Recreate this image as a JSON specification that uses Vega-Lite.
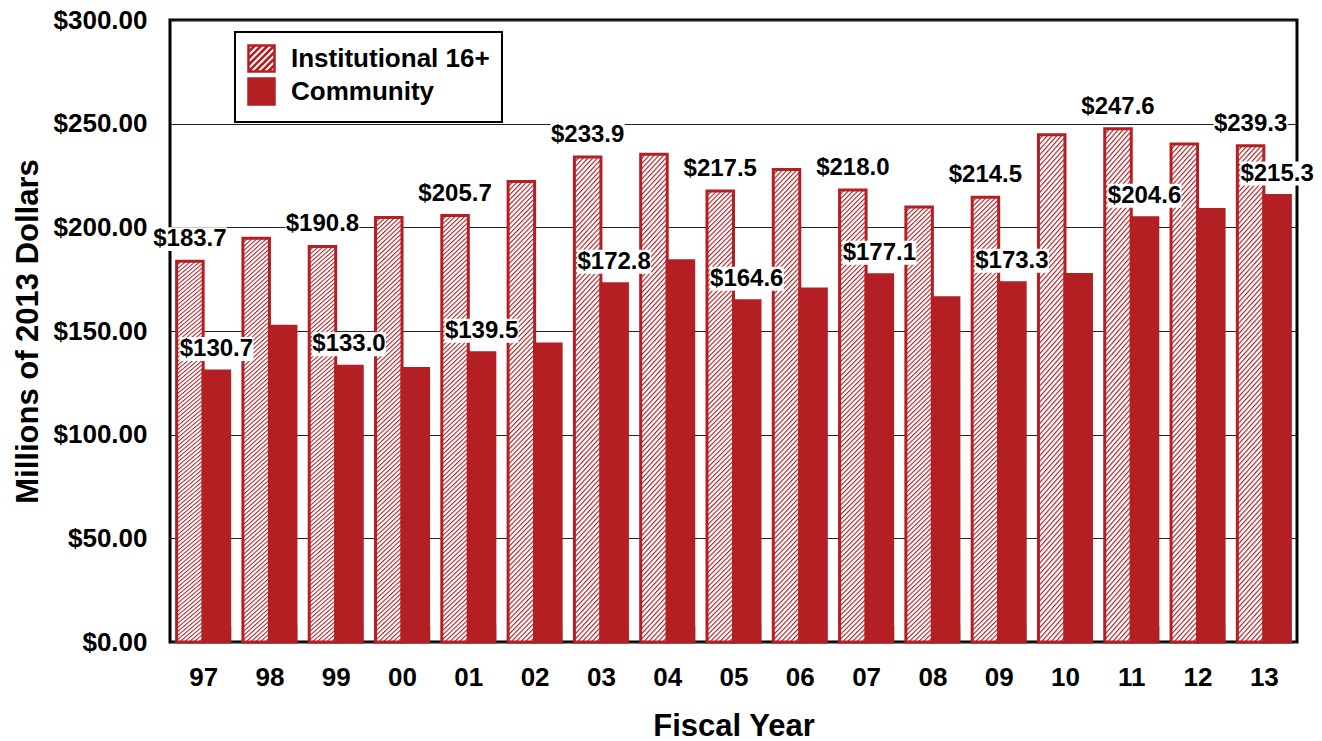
{
  "$schema": "https://vega.github.io/schema/vega-lite/v6.json",
  "width": 1127,
  "height": 622,
  "autosize": {"type": "none"},
  "padding": {"left": 170, "top": 20, "right": 25, "bottom": 99},
  "background": "white",
  "config": {
    "font": "Liberation Sans",
    "view": {"stroke": "black", "strokeWidth": 3},
    "legend": {"strokeColor": "black", "strokeWidth": 2, "fillColor": "white"}
  },
  "data": {
    "values": [
      {"year": "97", "series": "Institutional 16+", "value": 183.7},
      {"year": "98", "series": "Institutional 16+", "value": 194.7},
      {"year": "99", "series": "Institutional 16+", "value": 190.8},
      {"year": "00", "series": "Institutional 16+", "value": 204.7},
      {"year": "01", "series": "Institutional 16+", "value": 205.7},
      {"year": "02", "series": "Institutional 16+", "value": 222.1},
      {"year": "03", "series": "Institutional 16+", "value": 233.9},
      {"year": "04", "series": "Institutional 16+", "value": 235.3},
      {"year": "05", "series": "Institutional 16+", "value": 217.5},
      {"year": "06", "series": "Institutional 16+", "value": 227.9},
      {"year": "07", "series": "Institutional 16+", "value": 218.0},
      {"year": "08", "series": "Institutional 16+", "value": 209.8},
      {"year": "09", "series": "Institutional 16+", "value": 214.5},
      {"year": "10", "series": "Institutional 16+", "value": 244.7},
      {"year": "11", "series": "Institutional 16+", "value": 247.6},
      {"year": "12", "series": "Institutional 16+", "value": 240.2},
      {"year": "13", "series": "Institutional 16+", "value": 239.3},
      {"year": "97", "series": "Community", "value": 130.7},
      {"year": "98", "series": "Community", "value": 152.3},
      {"year": "99", "series": "Community", "value": 133.0},
      {"year": "00", "series": "Community", "value": 131.9},
      {"year": "01", "series": "Community", "value": 139.5},
      {"year": "02", "series": "Community", "value": 143.7},
      {"year": "03", "series": "Community", "value": 172.8},
      {"year": "04", "series": "Community", "value": 183.9},
      {"year": "05", "series": "Community", "value": 164.6},
      {"year": "06", "series": "Community", "value": 170.3},
      {"year": "07", "series": "Community", "value": 177.1},
      {"year": "08", "series": "Community", "value": 166.0},
      {"year": "09", "series": "Community", "value": 173.3},
      {"year": "10", "series": "Community", "value": 177.2},
      {"year": "11", "series": "Community", "value": 204.6},
      {"year": "12", "series": "Community", "value": 208.6},
      {"year": "13", "series": "Community", "value": 215.3}
    ]
  },
  "encoding": {
    "x": {
      "field": "year", "type": "nominal", "sort": null,
      "scale": {"paddingInner": 0.2, "paddingOuter": 0.1},
      "axis": {
        "title": "Fiscal Year", "titleFontSize": 31, "titleFontWeight": "bold", "titleColor": "black", "titlePadding": 21,
        "labelAngle": 0, "labelFontSize": 26, "labelFontWeight": "bold", "labelColor": "black", "labelPadding": 39,
        "domain": false, "grid": false,
        "ticks": true, "tickBand": "extent", "tickSize": -17, "tickColor": "#555", "tickWidth": 1.5
      }
    },
    "y": {
      "field": "value", "type": "quantitative",
      "scale": {"domain": [0, 300], "nice": false},
      "axis": {
        "title": "Millions of 2013 Dollars", "titleFontSize": 31, "titleFontWeight": "bold", "titleColor": "black", "titlePadding": 9,
        "values": [0, 50, 100, 150, 200, 250, 300], "format": "$.2f",
        "labelFontSize": 26, "labelFontWeight": "bold", "labelColor": "black", "labelPadding": 23,
        "domain": false, "ticks": false,
        "grid": true, "gridColor": "#222", "gridWidth": 1, "gridOpacity": 1
      }
    },
    "xOffset": {"field": "series", "type": "nominal", "sort": ["Institutional 16+", "Community"]}
  },
  "layer": [
    {
      "mark": {"type": "bar", "stroke": "#b41f24", "strokeWidth": 3},
      "encoding": {
        "fill": {
          "field": "series", "type": "nominal",
          "scale": {"domain": ["Institutional 16+", "Community"], "range": ["#ffffff", "#b41f24"]},
          "legend": {
            "title": null, "orient": "none", "legendX": 65, "legendY": 12,
            "padding": 12, "rowPadding": -9.5,
            "labelFont": "Liberation Sans", "labelFontSize": 26, "labelFontWeight": "bold", "labelColor": "black", "labelOffset": 15, "labelLimit": 500,
            "symbolType": "M-1,-1H1V1H-1Z M-1,-0.5L-0.5,-1 M-1,0L0,-1 M-1,0.5L0.5,-1 M-1,1L1,-1 M-0.5,1L1,-0.5 M0,1L1,0 M0.5,1L1,0.5",
            "symbolSize": 676, "symbolStrokeWidth": 2.5, "symbolStrokeColor": "#b41f24"
          },
          "condition": {
            "test": "datum.series === 'Institutional 16+'",
            "value": {
              "gradient": "linear", "x1": 0, "y1": 0, "x2": 0.0622, "y2": 1.0552,
              "stops": [
{"offset":0,"color":"#b41f24"},{"offset":0.004,"color":"#fff"},{"offset":0.0075,"color":"#fff"},
{"offset":0.01,"color":"#b41f24"},{"offset":0.014,"color":"#fff"},{"offset":0.0175,"color":"#fff"},
{"offset":0.02,"color":"#b41f24"},{"offset":0.024,"color":"#fff"},{"offset":0.0275,"color":"#fff"},
{"offset":0.03,"color":"#b41f24"},{"offset":0.034,"color":"#fff"},{"offset":0.0375,"color":"#fff"},
{"offset":0.04,"color":"#b41f24"},{"offset":0.044,"color":"#fff"},{"offset":0.0475,"color":"#fff"},
{"offset":0.05,"color":"#b41f24"},{"offset":0.054,"color":"#fff"},{"offset":0.0575,"color":"#fff"},
{"offset":0.06,"color":"#b41f24"},{"offset":0.064,"color":"#fff"},{"offset":0.0675,"color":"#fff"},
{"offset":0.07,"color":"#b41f24"},{"offset":0.074,"color":"#fff"},{"offset":0.0775,"color":"#fff"},
{"offset":0.08,"color":"#b41f24"},{"offset":0.084,"color":"#fff"},{"offset":0.0875,"color":"#fff"},
{"offset":0.09,"color":"#b41f24"},{"offset":0.094,"color":"#fff"},{"offset":0.0975,"color":"#fff"},
{"offset":0.1,"color":"#b41f24"},{"offset":0.104,"color":"#fff"},{"offset":0.1075,"color":"#fff"},
{"offset":0.11,"color":"#b41f24"},{"offset":0.114,"color":"#fff"},{"offset":0.1175,"color":"#fff"},
{"offset":0.12,"color":"#b41f24"},{"offset":0.124,"color":"#fff"},{"offset":0.1275,"color":"#fff"},
{"offset":0.13,"color":"#b41f24"},{"offset":0.134,"color":"#fff"},{"offset":0.1375,"color":"#fff"},
{"offset":0.14,"color":"#b41f24"},{"offset":0.144,"color":"#fff"},{"offset":0.1475,"color":"#fff"},
{"offset":0.15,"color":"#b41f24"},{"offset":0.154,"color":"#fff"},{"offset":0.1575,"color":"#fff"},
{"offset":0.16,"color":"#b41f24"},{"offset":0.164,"color":"#fff"},{"offset":0.1675,"color":"#fff"},
{"offset":0.17,"color":"#b41f24"},{"offset":0.174,"color":"#fff"},{"offset":0.1775,"color":"#fff"},
{"offset":0.18,"color":"#b41f24"},{"offset":0.184,"color":"#fff"},{"offset":0.1875,"color":"#fff"},
{"offset":0.19,"color":"#b41f24"},{"offset":0.194,"color":"#fff"},{"offset":0.1975,"color":"#fff"},
{"offset":0.2,"color":"#b41f24"},{"offset":0.204,"color":"#fff"},{"offset":0.2075,"color":"#fff"},
{"offset":0.21,"color":"#b41f24"},{"offset":0.214,"color":"#fff"},{"offset":0.2175,"color":"#fff"},
{"offset":0.22,"color":"#b41f24"},{"offset":0.224,"color":"#fff"},{"offset":0.2275,"color":"#fff"},
{"offset":0.23,"color":"#b41f24"},{"offset":0.234,"color":"#fff"},{"offset":0.2375,"color":"#fff"},
{"offset":0.24,"color":"#b41f24"},{"offset":0.244,"color":"#fff"},{"offset":0.2475,"color":"#fff"},
{"offset":0.25,"color":"#b41f24"},{"offset":0.254,"color":"#fff"},{"offset":0.2575,"color":"#fff"},
{"offset":0.26,"color":"#b41f24"},{"offset":0.264,"color":"#fff"},{"offset":0.2675,"color":"#fff"},
{"offset":0.27,"color":"#b41f24"},{"offset":0.274,"color":"#fff"},{"offset":0.2775,"color":"#fff"},
{"offset":0.28,"color":"#b41f24"},{"offset":0.284,"color":"#fff"},{"offset":0.2875,"color":"#fff"},
{"offset":0.29,"color":"#b41f24"},{"offset":0.294,"color":"#fff"},{"offset":0.2975,"color":"#fff"},
{"offset":0.3,"color":"#b41f24"},{"offset":0.304,"color":"#fff"},{"offset":0.3075,"color":"#fff"},
{"offset":0.31,"color":"#b41f24"},{"offset":0.314,"color":"#fff"},{"offset":0.3175,"color":"#fff"},
{"offset":0.32,"color":"#b41f24"},{"offset":0.324,"color":"#fff"},{"offset":0.3275,"color":"#fff"},
{"offset":0.33,"color":"#b41f24"},{"offset":0.334,"color":"#fff"},{"offset":0.3375,"color":"#fff"},
{"offset":0.34,"color":"#b41f24"},{"offset":0.344,"color":"#fff"},{"offset":0.3475,"color":"#fff"},
{"offset":0.35,"color":"#b41f24"},{"offset":0.354,"color":"#fff"},{"offset":0.3575,"color":"#fff"},
{"offset":0.36,"color":"#b41f24"},{"offset":0.364,"color":"#fff"},{"offset":0.3675,"color":"#fff"},
{"offset":0.37,"color":"#b41f24"},{"offset":0.374,"color":"#fff"},{"offset":0.3775,"color":"#fff"},
{"offset":0.38,"color":"#b41f24"},{"offset":0.384,"color":"#fff"},{"offset":0.3875,"color":"#fff"},
{"offset":0.39,"color":"#b41f24"},{"offset":0.394,"color":"#fff"},{"offset":0.3975,"color":"#fff"},
{"offset":0.4,"color":"#b41f24"},{"offset":0.404,"color":"#fff"},{"offset":0.4075,"color":"#fff"},
{"offset":0.41,"color":"#b41f24"},{"offset":0.414,"color":"#fff"},{"offset":0.4175,"color":"#fff"},
{"offset":0.42,"color":"#b41f24"},{"offset":0.424,"color":"#fff"},{"offset":0.4275,"color":"#fff"},
{"offset":0.43,"color":"#b41f24"},{"offset":0.434,"color":"#fff"},{"offset":0.4375,"color":"#fff"},
{"offset":0.44,"color":"#b41f24"},{"offset":0.444,"color":"#fff"},{"offset":0.4475,"color":"#fff"},
{"offset":0.45,"color":"#b41f24"},{"offset":0.454,"color":"#fff"},{"offset":0.4575,"color":"#fff"},
{"offset":0.46,"color":"#b41f24"},{"offset":0.464,"color":"#fff"},{"offset":0.4675,"color":"#fff"},
{"offset":0.47,"color":"#b41f24"},{"offset":0.474,"color":"#fff"},{"offset":0.4775,"color":"#fff"},
{"offset":0.48,"color":"#b41f24"},{"offset":0.484,"color":"#fff"},{"offset":0.4875,"color":"#fff"},
{"offset":0.49,"color":"#b41f24"},{"offset":0.494,"color":"#fff"},{"offset":0.4975,"color":"#fff"},
{"offset":0.5,"color":"#b41f24"},{"offset":0.504,"color":"#fff"},{"offset":0.5075,"color":"#fff"},
{"offset":0.51,"color":"#b41f24"},{"offset":0.514,"color":"#fff"},{"offset":0.5175,"color":"#fff"},
{"offset":0.52,"color":"#b41f24"},{"offset":0.524,"color":"#fff"},{"offset":0.5275,"color":"#fff"},
{"offset":0.53,"color":"#b41f24"},{"offset":0.534,"color":"#fff"},{"offset":0.5375,"color":"#fff"},
{"offset":0.54,"color":"#b41f24"},{"offset":0.544,"color":"#fff"},{"offset":0.5475,"color":"#fff"},
{"offset":0.55,"color":"#b41f24"},{"offset":0.554,"color":"#fff"},{"offset":0.5575,"color":"#fff"},
{"offset":0.56,"color":"#b41f24"},{"offset":0.564,"color":"#fff"},{"offset":0.5675,"color":"#fff"},
{"offset":0.57,"color":"#b41f24"},{"offset":0.574,"color":"#fff"},{"offset":0.5775,"color":"#fff"},
{"offset":0.58,"color":"#b41f24"},{"offset":0.584,"color":"#fff"},{"offset":0.5875,"color":"#fff"},
{"offset":0.59,"color":"#b41f24"},{"offset":0.594,"color":"#fff"},{"offset":0.5975,"color":"#fff"},
{"offset":0.6,"color":"#b41f24"},{"offset":0.604,"color":"#fff"},{"offset":0.6075,"color":"#fff"},
{"offset":0.61,"color":"#b41f24"},{"offset":0.614,"color":"#fff"},{"offset":0.6175,"color":"#fff"},
{"offset":0.62,"color":"#b41f24"},{"offset":0.624,"color":"#fff"},{"offset":0.6275,"color":"#fff"},
{"offset":0.63,"color":"#b41f24"},{"offset":0.634,"color":"#fff"},{"offset":0.6375,"color":"#fff"},
{"offset":0.64,"color":"#b41f24"},{"offset":0.644,"color":"#fff"},{"offset":0.6475,"color":"#fff"},
{"offset":0.65,"color":"#b41f24"},{"offset":0.654,"color":"#fff"},{"offset":0.6575,"color":"#fff"},
{"offset":0.66,"color":"#b41f24"},{"offset":0.664,"color":"#fff"},{"offset":0.6675,"color":"#fff"},
{"offset":0.67,"color":"#b41f24"},{"offset":0.674,"color":"#fff"},{"offset":0.6775,"color":"#fff"},
{"offset":0.68,"color":"#b41f24"},{"offset":0.684,"color":"#fff"},{"offset":0.6875,"color":"#fff"},
{"offset":0.69,"color":"#b41f24"},{"offset":0.694,"color":"#fff"},{"offset":0.6975,"color":"#fff"},
{"offset":0.7,"color":"#b41f24"},{"offset":0.704,"color":"#fff"},{"offset":0.7075,"color":"#fff"},
{"offset":0.71,"color":"#b41f24"},{"offset":0.714,"color":"#fff"},{"offset":0.7175,"color":"#fff"},
{"offset":0.72,"color":"#b41f24"},{"offset":0.724,"color":"#fff"},{"offset":0.7275,"color":"#fff"},
{"offset":0.73,"color":"#b41f24"},{"offset":0.734,"color":"#fff"},{"offset":0.7375,"color":"#fff"},
{"offset":0.74,"color":"#b41f24"},{"offset":0.744,"color":"#fff"},{"offset":0.7475,"color":"#fff"},
{"offset":0.75,"color":"#b41f24"},{"offset":0.754,"color":"#fff"},{"offset":0.7575,"color":"#fff"},
{"offset":0.76,"color":"#b41f24"},{"offset":0.764,"color":"#fff"},{"offset":0.7675,"color":"#fff"},
{"offset":0.77,"color":"#b41f24"},{"offset":0.774,"color":"#fff"},{"offset":0.7775,"color":"#fff"},
{"offset":0.78,"color":"#b41f24"},{"offset":0.784,"color":"#fff"},{"offset":0.7875,"color":"#fff"},
{"offset":0.79,"color":"#b41f24"},{"offset":0.794,"color":"#fff"},{"offset":0.7975,"color":"#fff"},
{"offset":0.8,"color":"#b41f24"},{"offset":0.804,"color":"#fff"},{"offset":0.8075,"color":"#fff"},
{"offset":0.81,"color":"#b41f24"},{"offset":0.814,"color":"#fff"},{"offset":0.8175,"color":"#fff"},
{"offset":0.82,"color":"#b41f24"},{"offset":0.824,"color":"#fff"},{"offset":0.8275,"color":"#fff"},
{"offset":0.83,"color":"#b41f24"},{"offset":0.834,"color":"#fff"},{"offset":0.8375,"color":"#fff"},
{"offset":0.84,"color":"#b41f24"},{"offset":0.844,"color":"#fff"},{"offset":0.8475,"color":"#fff"},
{"offset":0.85,"color":"#b41f24"},{"offset":0.854,"color":"#fff"},{"offset":0.8575,"color":"#fff"},
{"offset":0.86,"color":"#b41f24"},{"offset":0.864,"color":"#fff"},{"offset":0.8675,"color":"#fff"},
{"offset":0.87,"color":"#b41f24"},{"offset":0.874,"color":"#fff"},{"offset":0.8775,"color":"#fff"},
{"offset":0.88,"color":"#b41f24"},{"offset":0.884,"color":"#fff"},{"offset":0.8875,"color":"#fff"},
{"offset":0.89,"color":"#b41f24"},{"offset":0.894,"color":"#fff"},{"offset":0.8975,"color":"#fff"},
{"offset":0.9,"color":"#b41f24"},{"offset":0.904,"color":"#fff"},{"offset":0.9075,"color":"#fff"},
{"offset":0.91,"color":"#b41f24"},{"offset":0.914,"color":"#fff"},{"offset":0.9175,"color":"#fff"},
{"offset":0.92,"color":"#b41f24"},{"offset":0.924,"color":"#fff"},{"offset":0.9275,"color":"#fff"},
{"offset":0.93,"color":"#b41f24"},{"offset":0.934,"color":"#fff"},{"offset":0.9375,"color":"#fff"},
{"offset":0.94,"color":"#b41f24"},{"offset":0.944,"color":"#fff"},{"offset":0.9475,"color":"#fff"},
{"offset":0.95,"color":"#b41f24"},{"offset":0.954,"color":"#fff"},{"offset":0.9575,"color":"#fff"},
{"offset":0.96,"color":"#b41f24"},{"offset":0.964,"color":"#fff"},{"offset":0.9675,"color":"#fff"},
{"offset":0.97,"color":"#b41f24"},{"offset":0.974,"color":"#fff"},{"offset":0.9775,"color":"#fff"},
{"offset":0.98,"color":"#b41f24"},{"offset":0.984,"color":"#fff"},{"offset":0.9875,"color":"#fff"},
{"offset":0.99,"color":"#b41f24"},{"offset":0.994,"color":"#fff"},{"offset":0.9975,"color":"#fff"},
{"offset":1,"color":"#b41f24"}
              ]
            }
          }
        }
      }
    },
    {
      "transform": [{"filter": {"field": "year", "oneOf": ["97", "99", "01", "03", "05", "07", "09", "11", "13"]}}],
      "layer": [
        {
          "mark": {"type": "point", "shape": "M-1,-0.324H1V0.324H-1Z", "size": 5476, "filled": true, "color": "white", "fill": "white", "opacity": 1, "strokeWidth": 0, "yOffset": -22},
          "encoding": {}
        },
        {
          "mark": {"type": "text", "font": "Liberation Sans", "fontSize": 24, "fontWeight": "bold", "baseline": "middle", "align": "center", "color": "black", "yOffset": -22},
          "encoding": {"text": {"field": "value", "type": "quantitative", "format": "$.1f"}}
        }
      ]
    }
  ]
}
